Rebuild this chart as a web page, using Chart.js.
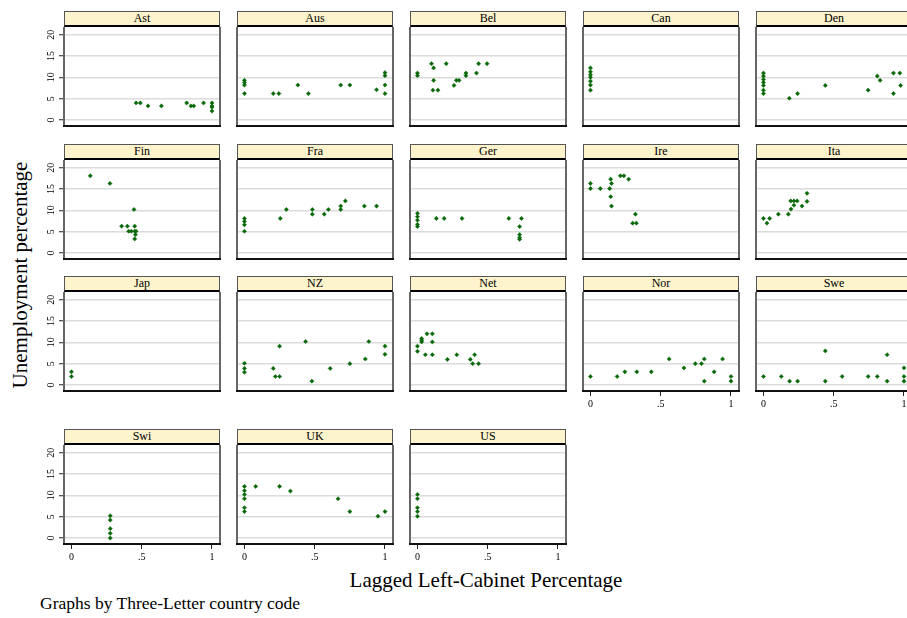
<!DOCTYPE html>
<html>
<head>
<meta charset="utf-8">
<script src="https://cdn.jsdelivr.net/npm/chart.js@4.4.0/dist/chart.umd.min.js"></script>
<style>
  body { margin: 0; background: #fff; width: 907px; height: 618px; overflow: hidden; position: relative;
         font-family: "Liberation Serif", "Times New Roman", serif; color: #000; }
  .panel { position: absolute; }
  .strip { position: absolute; box-sizing: border-box; background: #fdf3cc; border: 1px solid #555;
           border-bottom: 2px solid #000; text-align: center; font-size: 12px; line-height: 13px; }
  .panel canvas { position: absolute; left: 0; }
  .ytitle { position: absolute; left: 20px; top: 275px; font-size: 21px; white-space: nowrap;
            transform: translate(-50%, -50%) rotate(-90deg); }
  .xtitle { position: absolute; left: 486px; top: 580px; font-size: 21px; white-space: nowrap;
            transform: translate(-50%, -50%); }
  .note { position: absolute; left: 40px; top: 593px; font-size: 17.5px; white-space: nowrap; }
</style>
</head>
<body>
<div class="ytitle">Unemployment percentage</div>
<div class="xtitle">Lagged Left-Cabinet Percentage</div>
<div class="note">Graphs by Three-Letter country code</div>
<script>
// country codes, in panel order
const countries = ['Ast', 'Aus', 'Bel', 'Can', 'Den', 'Fin', 'Fra', 'Ger', 'Ire', 'Ita',
                   'Jap', 'NZ', 'Net', 'Nor', 'Swe', 'Swi', 'UK', 'US'];

// lagged left-cabinet share (x) and unemployment % (y)
const astX = [0.46, 0.49, 0.545, 0.64, 0.82, 0.85, 0.87, 0.94, 1, 1, 1, 1];
const astY = [4.0, 4.0, 3.3, 3.3, 4.0, 3.3, 3.3, 4.0, 4.0, 3.3, 3.0, 2.1];
const ausX = [0, 0, 0, 0, 0.205, 0.245, 0.38, 0.455, 0.685, 0.75, 0.94, 1, 1, 1, 1];
const ausY = [9.3, 8.8, 8.2, 6.2, 6.2, 6.2, 8.2, 6.2, 8.2, 8.2, 7.1, 11.1, 10.4, 8.2, 6.2];
const belX = [0, 0, 0.1, 0.115, 0.205, 0.115, 0.11, 0.146, 0.26, 0.277, 0.296, 0.345, 0.345, 0.42, 0.435, 0.495];
const belY = [11.0, 10.4, 13.2, 12.2, 13.2, 9.3, 7.0, 7.0, 8.1, 9.3, 9.3, 11.0, 10.4, 11.0, 13.2, 13.2];
const canX = [0, 0, 0, 0, 0, 0, 0];
const canY = [12.2, 11.3, 10.6, 10.0, 9.1, 8.2, 7.0];
const denX = [0, 0, 0, 0, 0, 0, 0, 0.184, 0.243, 0.44, 0.745, 0.81, 0.83, 0.925, 0.97, 0.925, 0.976];
const denY = [11.0, 10.3, 9.5, 8.8, 8.1, 7.0, 6.2, 5.1, 6.2, 8.1, 7.0, 10.3, 9.3, 11.0, 11.0, 6.2, 8.1];
const finX = [0.134, 0.274, 0.357, 0.398, 0.407, 0.426, 0.445, 0.45, 0.45, 0.46, 0.455, 0.45];
const finY = [18.1, 16.3, 6.3, 6.3, 5.1, 5.1, 10.2, 6.3, 5.1, 5.1, 4.3, 3.3];
const fraX = [0, 0, 0, 0, 0.255, 0.298, 0.483, 0.483, 0.568, 0.597, 0.685, 0.685, 0.718, 0.853, 0.94];
const fraY = [8.1, 7.4, 6.6, 5.1, 8.1, 10.2, 10.2, 9.1, 9.1, 10.2, 11.0, 10.2, 12.2, 11.0, 11.0];
const gerX = [0, 0, 0, 0, 0, 0.134, 0.19, 0.317, 0.65, 0.74, 0.727, 0.727, 0.727, 0.727];
const gerY = [9.3, 8.5, 7.7, 6.7, 6.2, 8.1, 8.1, 8.1, 8.1, 8.1, 6.2, 4.3, 3.6, 3.2];
const ireX = [0, 0, 0.07, 0.137, 0.144, 0.15, 0.144, 0.15, 0.213, 0.238, 0.272, 0.32, 0.30, 0.327];
const ireY = [16.3, 15.1, 15.1, 15.1, 17.3, 16.3, 13.2, 11.0, 18.1, 18.1, 17.3, 9.1, 7.0, 7.0];
const itaX = [0, 0.025, 0.044, 0.106, 0.177, 0.196, 0.217, 0.194, 0.217, 0.24, 0.274, 0.31, 0.31];
const itaY = [8.1, 7.0, 8.1, 9.1, 9.1, 10.3, 11.2, 12.2, 12.2, 12.2, 11.0, 12.1, 14.0];
const japX = [0, 0];
const japY = [3.1, 2.0];
const nzX = [0, 0, 0, 0.205, 0.22, 0.25, 0.25, 0.435, 0.48, 0.61, 0.75, 0.86, 0.885, 1, 1];
const nzY = [5.1, 3.9, 3.0, 3.9, 2.0, 2.0, 9.1, 10.2, 0.9, 3.9, 5.0, 6.1, 10.2, 9.1, 7.2];
const netX = [0, 0, 0.03, 0.03, 0.03, 0.068, 0.106, 0.106, 0.056, 0.106, 0.213, 0.28, 0.376, 0.407, 0.393, 0.435];
const netY = [9.1, 7.9, 10.9, 10.5, 10.1, 12.0, 12.0, 10.1, 7.1, 7.1, 6.0, 7.1, 6.0, 7.1, 5.0, 5.0];
const norX = [0, 0.19, 0.245, 0.33, 0.433, 0.56, 0.665, 0.746, 0.79, 0.81, 0.81, 0.88, 0.94, 1, 1];
const norY = [2.0, 2.0, 3.1, 3.1, 3.1, 6.1, 4.0, 5.0, 5.0, 6.1, 0.9, 3.1, 6.1, 2.0, 0.9];
const sweX = [0, 0.127, 0.186, 0.243, 0.44, 0.44, 0.56, 0.745, 0.81, 0.88, 0.88, 1, 1, 1];
const sweY = [2.0, 2.0, 0.9, 0.9, 8.0, 0.9, 2.0, 2.0, 2.0, 7.1, 0.9, 4.0, 2.0, 0.9];
const swiX = [0.276, 0.276, 0.276, 0.276, 0.276];
const swiY = [5.2, 4.2, 2.2, 1.1, 0.0];
const ukX = [0, 0, 0, 0, 0, 0, 0.08, 0.25, 0.327, 0.666, 0.75, 0.95, 1];
const ukY = [12.1, 11.1, 10.2, 9.2, 7.1, 6.2, 12.1, 12.1, 11.0, 9.2, 6.2, 5.1, 6.2];
const usX = [0, 0, 0, 0, 0];
const usY = [10.2, 9.2, 7.1, 6.2, 5.1];

// axis ticks
const xTicks = [0, 0.5, 1];
const xTickLabels = ['0', '.5', '1'];
const yTicks = [0, 5, 10, 15, 20];
const yTickLabels = ['0', '5', '10', '15', '20'];

const panelX = [astX, ausX, belX, canX, denX, finX, fraX, gerX, ireX, itaX, japX, nzX, netX, norX, sweX, swiX, ukX, usX];
const panelY = [astY, ausY, belY, canY, denY, finY, fraY, gerY, ireY, itaY, japY, nzY, netY, norY, sweY, swiY, ukY, usY];

// layout of the grid
const colLeft = [64, 237, 410, 583, 756];
const rowTop = [11, 144, 276, 429];
const plotW = 156, plotH = 99, stripH = 16;
const YW = 34, XH = 24;
const green = '#086808';
const tickFont = { family: 'Liberation Serif', size: 10 };

// frame round the plot region, stata style
const framePlugin = {
    id: 'frame',
    afterDraw(chart) {
        const { ctx, chartArea: a } = chart;
        ctx.save();
        ctx.lineWidth = 2;
        ctx.strokeStyle = '#666';
        ctx.beginPath();
        ctx.moveTo(a.left, a.top); ctx.lineTo(a.left, a.bottom);
        ctx.moveTo(a.right, a.top); ctx.lineTo(a.right, a.bottom);
        ctx.stroke();
        ctx.strokeStyle = '#111';
        ctx.beginPath();
        ctx.moveTo(a.left - 1, a.bottom); ctx.lineTo(a.right + 1, a.bottom);
        ctx.stroke();
        ctx.restore();
    }
};

// keep every plot region the same size, whatever labels it shows
function noPad(s) {
    s.paddingTop = 0;
    s.paddingBottom = 0;
    s.paddingLeft = 0;
    s.paddingRight = 0;
}

countries.forEach((name, i) => {
    const row = Math.floor(i / 5), col = i % 5;
    const showY = col === 0;
    const showX = row === 3 || (row === 2 && col >= 3);

    const box = document.createElement('div');
    box.className = 'panel';
    box.style.left = (colLeft[col] - YW) + 'px';
    box.style.top = rowTop[row] + 'px';
    box.style.width = (YW + plotW + 2) + 'px';
    box.style.height = (stripH + plotH + XH) + 'px';

    const strip = document.createElement('div');
    strip.className = 'strip';
    strip.style.left = YW + 'px';
    strip.style.top = '0px';
    strip.style.width = plotW + 'px';
    strip.style.height = stripH + 'px';
    strip.textContent = name;
    box.appendChild(strip);

    const cv = document.createElement('canvas');
    cv.width = YW + plotW + 2;
    cv.height = plotH + XH;
    cv.style.top = stripH + 'px';
    box.appendChild(cv);
    document.body.appendChild(box);

    const pts = panelX[i].map((x, k) => ({ x: x, y: panelY[i][k] }));

    new Chart(cv, {
        type: 'scatter',
        data: {
            datasets: [{
                data: pts,
                pointStyle: 'rectRot',
                radius: 2.1,
                backgroundColor: green,
                borderColor: green,
                borderWidth: 0.5
            }]
        },
        options: {
            responsive: false,
            animation: false,
            events: [],
            devicePixelRatio: 1,
            layout: { autoPadding: false, padding: { top: 0, left: 0, bottom: 0, right: 2 } },
            plugins: { legend: { display: false }, tooltip: { enabled: false } },
            scales: {
                x: {
                    type: 'linear',
                    min: -0.053,
                    max: 1.057,
                    afterBuildTicks: s => { s.ticks = xTicks.map(v => ({ value: v })); },
                    afterFit: s => { s.height = XH; noPad(s); },
                    border: { display: false },
                    grid: { display: showX, drawOnChartArea: false, drawTicks: showX, tickLength: 5, tickColor: '#222', lineWidth: 1 },
                    ticks: {
                        display: showX,
                        autoSkip: false,
                        maxRotation: 0,
                        padding: 2,
                        color: '#000',
                        font: tickFont,
                        callback: v => xTickLabels[xTicks.indexOf(v)]
                    }
                },
                y: {
                    type: 'linear',
                    min: -1.4,
                    max: 21.8,
                    afterBuildTicks: s => { s.ticks = yTicks.map(v => ({ value: v })); },
                    afterFit: s => { s.width = YW; noPad(s); },
                    border: { display: false },
                    grid: { color: '#dcdcdc', lineWidth: 1.5, drawTicks: showY, tickLength: 5, tickColor: '#222', tickWidth: 1 },
                    ticks: {
                        display: showY,
                        minRotation: 90,
                        maxRotation: 90,
                        crossAlign: 'center',
                        padding: 3,
                        color: '#000',
                        font: tickFont,
                        callback: v => yTickLabels[yTicks.indexOf(v)]
                    }
                }
            }
        },
        plugins: [framePlugin]
    });
});
</script>
</body>
</html>
